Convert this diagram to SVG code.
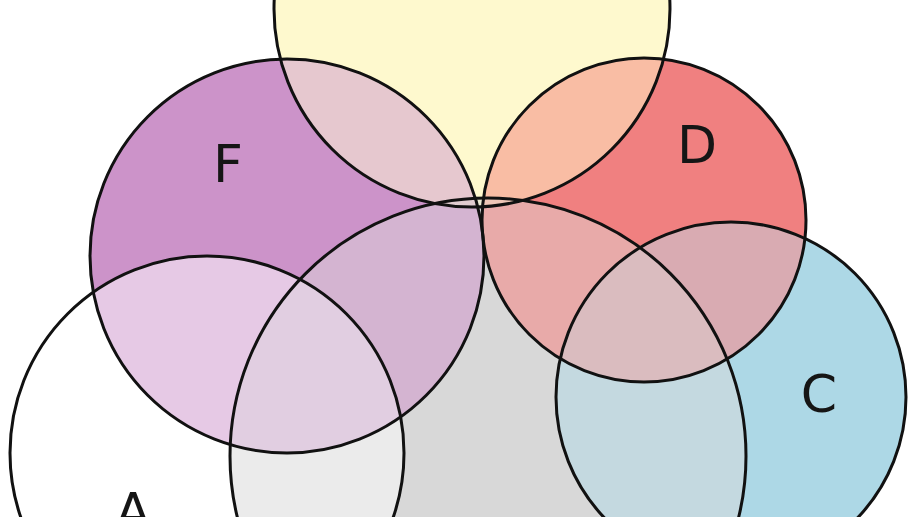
<svg xmlns="http://www.w3.org/2000/svg" xmlns:xlink="http://www.w3.org/1999/xlink" width="918" height="517" viewBox="0 0 918 517">
<style>
.outline{fill:none;stroke:#111;stroke-width:3}
.label{font-family:"DejaVu Sans",sans-serif;font-size:52px;fill:#151515;text-anchor:middle}
</style>
<defs>
<circle id="cA" cx="207" cy="453" r="197"/>
<circle id="cB" cx="488" cy="456" r="258"/>
<circle id="cC" cx="731" cy="397" r="175"/>
<circle id="cD" cx="644" cy="220" r="162"/>
<circle id="cE" cx="472" cy="9" r="198"/>
<circle id="cF" cx="287" cy="256" r="197"/>
<clipPath id="kA"><circle cx="207" cy="453" r="197"/></clipPath>
<clipPath id="kB"><circle cx="488" cy="456" r="258"/></clipPath>
<clipPath id="kC"><circle cx="731" cy="397" r="175"/></clipPath>
<clipPath id="kD"><circle cx="644" cy="220" r="162"/></clipPath>
<clipPath id="kE"><circle cx="472" cy="9" r="198"/></clipPath>
<clipPath id="kF"><circle cx="287" cy="256" r="197"/></clipPath>
</defs>
<g id="regions">
<rect width="918" height="517" fill="#fff"/>
<use href="#cA" fill="#fff"/>
<use href="#cB" fill="#d8d8d8"/>
<use href="#cC" fill="#add8e6"/>
<use href="#cD" fill="#f08080"/>
<use href="#cE" fill="#fef9ce"/>
<use href="#cF" fill="#cc93c9"/>
<use href="#cB" fill="#ebebeb" clip-path="url(#kA)"/>
<use href="#cF" fill="#e6c9e5" clip-path="url(#kA)"/>
<use href="#cF" fill="#d4b4d1" clip-path="url(#kB)"/>
<use href="#cF" fill="#e6c8cf" clip-path="url(#kE)"/>
<use href="#cD" fill="#f9bda4" clip-path="url(#kE)"/>
<use href="#cD" fill="#e8aaa9" clip-path="url(#kB)"/>
<use href="#cD" fill="#d9abb2" clip-path="url(#kC)"/>
<use href="#cC" fill="#c4d9e0" clip-path="url(#kB)"/>
<use href="#cE" fill="#ebe9d3" clip-path="url(#kB)"/>
<g clip-path="url(#kB)"><use href="#cF" fill="#e1cee1" clip-path="url(#kA)"/></g>
<g clip-path="url(#kB)"><use href="#cD" fill="#dabcbf" clip-path="url(#kC)"/></g>
<g clip-path="url(#kB)"><use href="#cD" fill="#eec6b7" clip-path="url(#kE)"/></g>
<g clip-path="url(#kB)"><use href="#cF" fill="#e0ccd0" clip-path="url(#kE)"/></g>
</g>
<g id="node-A"><use href="#cA" class="outline"/><text class="label" x="133" y="530">A</text></g>
<g id="node-B"><use href="#cB" class="outline"/></g>
<g id="node-C"><use href="#cC" class="outline"/><text class="label" x="819" y="412">C</text></g>
<g id="node-D"><use href="#cD" class="outline"/><text class="label" x="697" y="163">D</text></g>
<g id="node-E"><use href="#cE" class="outline"/></g>
<g id="node-F"><use href="#cF" class="outline"/><text class="label" x="228" y="182">F</text></g>
<g id="connectors"/>
</svg>
